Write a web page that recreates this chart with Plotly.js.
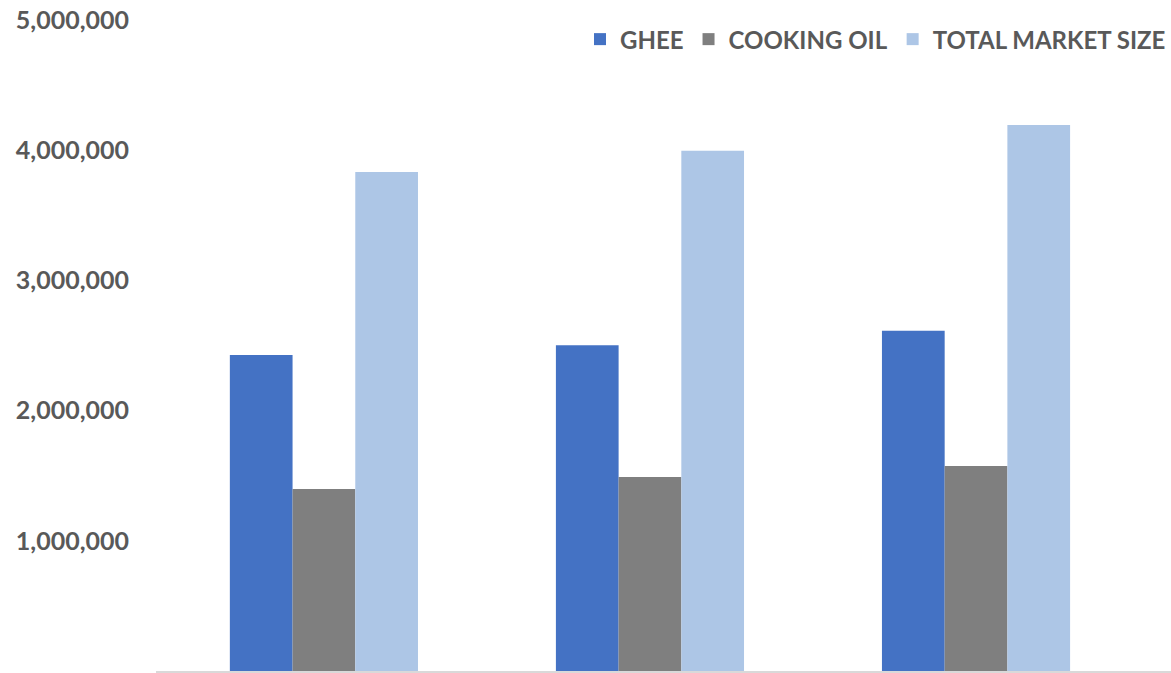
<!DOCTYPE html>
<html>
<head>
<meta charset="utf-8">
<script src="https://cdn.plot.ly/plotly-3.0.1.min.js"></script>
<style>html,body{margin:0;padding:0;background:#fff;}#chart{width:1171px;height:673px;}</style>
</head>
<body>
<div id="chart"></div>
<script>
const categories = ["Year 1", "Year 2", "Year 3"];
const ghee = [2427000, 2501000, 2614000];
const cookingOil = [1398000, 1490000, 1575000];
const totalMarketSize = [3833000, 3996000, 4194000];
const yTickVals = [1000000, 2000000, 3000000, 4000000, 5000000];
const yTickText = ["1,000,000", "2,000,000", "3,000,000", "4,000,000", "5,000,000"];

const seriesNames = ["GHEE", "COOKING OIL", "TOTAL MARKET SIZE"];
const seriesColors = ["#4472C4", "#7F7F7F", "#ADC6E6"];
const seriesValues = [ghee, cookingOil, totalMarketSize];

const traces = seriesValues.map((vals, i) => ({
  type: "bar",
  x: categories,
  y: vals,
  name: seriesNames[i],
  marker: {color: seriesColors[i], line: {width: 0}},
  hoverinfo: "y+name"
}));

const layout = {
  width: 1171,
  height: 673,
  margin: {l: 156, r: 0, t: 20, b: 2, pad: 0},
  paper_bgcolor: "#ffffff",
  plot_bgcolor: "#ffffff",
  barmode: "group",
  bargap: 0.423,
  bargroupgap: 0,
  font: {family: "Lato, 'Open Sans', sans-serif", color: "#595959"},
  xaxis: {
    type: "category",
    range: [-0.515, 2.598],
    showticklabels: false,
    showgrid: false,
    zeroline: false,
    showline: true,
    linecolor: "#D9D9D9",
    linewidth: 1.5,
    ticks: "",
    fixedrange: true
  },
  yaxis: {
    range: [0, 5000000],
    tickvals: yTickVals,
    ticktext: yTickText,
    showgrid: false,
    zeroline: false,
    showline: false,
    ticks: "",
    ticklabelstandoff: 26,
    tickfont: {family: "Lato, sans-serif", size: 25, color: "#595959", weight: "bold"},
    fixedrange: true
  },
  legend: {
    orientation: "h",
    x: 1.0,
    xanchor: "right",
    y: 0.97,
    yanchor: "middle",
    font: {family: "Lato, sans-serif", size: 24, color: "#595959", weight: "bold"},
    itemwidth: 30,
    tracegroupgap: 0,
    bgcolor: "rgba(0,0,0,0)"
  },
  showlegend: true
};

Plotly.newPlot("chart", traces, layout, {displayModeBar: false, staticPlot: false});
</script>
</body>
</html>
